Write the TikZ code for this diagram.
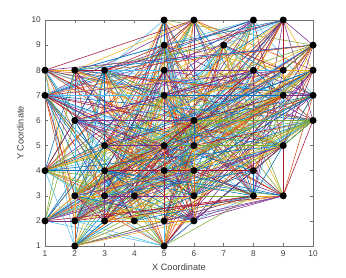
\documentclass[tikz,border=0pt]{standalone}
\usepackage{fontspec}
\setmainfont{Liberation Sans}
\usetikzlibrary{calc}
\begin{document}
\begin{tikzpicture}[x=29.78pt,y=25.11pt,
  axisline/.style={draw=black!55,line width=0.6pt},
  tick/.style={draw=black!55,line width=0.5pt},
  ticklabel/.style={font=\fontsize{8.3}{9}\selectfont,text=black!75,inner sep=1pt},
  axislabel/.style={font=\fontsize{9.2}{10}\selectfont,text=black!75,inner sep=1pt},
  edge/.style={line width=0.55pt},
  dot/.style={circle,fill=black,minimum size=7pt,inner sep=0pt}]
\definecolor{mc0}{rgb}{0,0.447,0.741}
\definecolor{mc1}{rgb}{0.85,0.325,0.098}
\definecolor{mc2}{rgb}{0.929,0.694,0.125}
\definecolor{mc3}{rgb}{0.494,0.184,0.556}
\definecolor{mc4}{rgb}{0.466,0.674,0.188}
\definecolor{mc5}{rgb}{0.301,0.745,0.933}
\definecolor{mc6}{rgb}{0.635,0.078,0.184}
% bounding box: 346x277 px, axis x=1 at 45px, y=1 at 31px from bottom
\useasboundingbox ($(1,1)+(-45pt,-31pt)$) rectangle ($(1,1)+(301pt,246pt)$);
% points
\foreach \px/\py [count=\i] in {5/10,6/10,8/10,9/10,5/9,7/9,10/9,1/8,2/8,3/8,5/8,8/8,9/8,10/8,1/7,5/7,9/7,10/7,2/6,6/6,10/6,3/5,5/5,6/5,9/5,1/4,3/4,5/4,6/4,8/4,2/3,3/3,4/3,6/3,8/3,9/3,1/2,2/2,3/2,4/2,5/2,6/2,2/1,5/1}
  \coordinate (p\i) at (\px,\py);
% edges
\pgfmathsetseed{12345}
\foreach \i in {1,...,43}{
  \pgfmathtruncatemacro\ja{\i+1}
  \foreach \j in {\ja,...,44}{
    \pgfmathsetmacro\r{rnd}
    \pgfmathrandominteger{\c}{0}{6}
    \ifdim\r pt<0.6pt
      \draw[edge,draw=mc\c] (p\i) -- (p\j);
    \fi
  }
}
% axes box
\coordinate (bl) at (1,1);
\coordinate (tr) at (10,10);
\draw[axisline] (bl) rectangle (tr);
\foreach \k in {1,...,10}{
  \draw[tick] (\k,1) -- ++(0,3pt);
  \draw[tick] (\k,10) -- ++(0,-3pt);
  \draw[tick] (1,\k) -- ++(3pt,0);
  \draw[tick] (10,\k) -- ++(-3pt,0);
  \node[ticklabel,anchor=north] (xt\k) at ($(\k,1)+(0,-4pt)$) {\k};
  \node[ticklabel,anchor=east] (yt\k) at ($(1,\k)+(-3pt,0)$) {\k};
}
\node[axislabel,anchor=north] (xl) at ($(5.5,1)+(0,-17pt)$) {X Coordinate};
\node[axislabel,rotate=90,anchor=south] (yl) at ($(1,5.5)+(-20pt,0)$) {Y Coordinate};
% markers
\foreach \i in {1,...,44}
  \node[dot] (m\i) at (p\i) {};
\end{tikzpicture}
\end{document}
